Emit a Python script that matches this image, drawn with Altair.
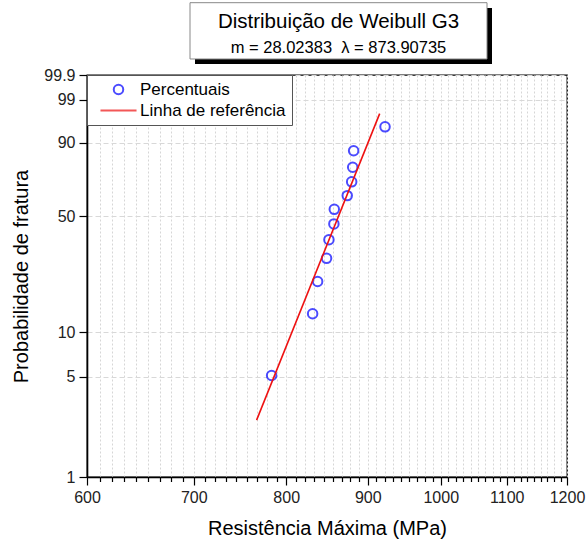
import math
import altair as alt
import pandas as pd

# ---- data ----
pct_strength = [783.3, 831.1, 837.1, 848.0, 850.9, 857.0, 857.5, 873.7, 879.3, 880.6, 881.8, 922.7]
pct_prob = [5.1, 13.3, 21.4, 29.6, 37.8, 45.9, 54.1, 62.2, 70.4, 78.6, 86.7, 94.9]
ref_strength = [766.5, 915.6]
ref_prob = [2.5, 97.5]
x_major = [600, 700, 800, 900, 1000, 1100, 1200]
y_ticks = [1, 5, 10, 50, 90, 99, 99.9]
series_names = ["Percentuais", "Linha de referência"]
title_text = "Distribuição de Weibull G3"
subtitle_text = "m = 28.02383 \u00a0λ = 873.90735"
x_title = "Resistência Máxima (MPa)"
y_title = "Probabilidade de fratura"

FONT = "Liberation Sans"


def weib(p):
    return math.log(-math.log(1 - p / 100.0))


x_minor = [h + k * 100.0 / 9.0 for h in x_major[:-1] for k in range(1, 9)]
major_list = "[" + ",".join(str(v) for v in x_major) + "]"
is_major = f"indexof({major_list}, datum.value) >= 0"

pts = pd.DataFrame({"strength": pct_strength, "p": pct_prob, "series": series_names[0]})
ref = pd.DataFrame({"strength": ref_strength, "p": ref_prob, "series": series_names[1]})
dummy = pd.DataFrame({"a": [0]})

x_enc = alt.X(
    "strength:Q",
    scale=alt.Scale(type="log", domain=[600, 1200], nice=False, zero=False),
    axis=alt.Axis(
        values=x_major + x_minor,
        labelExpr=f"{is_major} ? '' + datum.value : ''",
        tickSize={"condition": {"test": is_major, "value": 8}, "value": 4.5},
        labelOverlap=False,
        labelFlush=False,
        labelBound=False,
        title=x_title,
        grid=True,
        gridDash=[2, 2],
        gridColor="#d6d6d6",
        gridWidth=1,
    ),
)
y_enc = alt.Y(
    "w:Q",
    scale=alt.Scale(domain=[weib(1), weib(99.9)], nice=False, zero=False),
    axis=alt.Axis(
        values=[weib(v) for v in y_ticks],
        labelExpr="'' + round(1000*(1-exp(-exp(datum.value))))/10",
        tickSize=8,
        labelOverlap=False,
        labelFlush=False,
        title=y_title,
        grid=True,
        gridDash=[5, 3],
        gridColor="#d8d8d8",
        gridWidth=1,
    ),
)

legend = alt.Legend(
    title=None,
    orient="none",
    legendX=0,
    legendY=0,
    labelFont=FONT,
    labelFontSize=17,
    labelColor="black",
    symbolSize=90,
    symbolStrokeWidth=2,
    symbolOffset=17,
    labelOffset=13,
    rowPadding=2,
    padding=6,
    strokeColor="#555555",
    fillColor="white",
)
color_scale = alt.Scale(domain=series_names, range=["#0000ff", "#ee1111"])
shape_scale = alt.Scale(domain=series_names, range=["circle", "M-3.8,0H3.8"])

points = (
    alt.Chart(pts)
    .transform_calculate(w="log(-log(1 - datum.p/100))")
    .mark_point(filled=False, size=90, strokeWidth=2)
    .encode(
        x=x_enc,
        y=y_enc,
        color=alt.Color("series:N", scale=color_scale, legend=legend),
        shape=alt.Shape("series:N", scale=shape_scale, legend=legend),
    )
)

line = (
    alt.Chart(ref)
    .transform_calculate(w="log(-log(1 - datum.p/100))")
    .mark_line(strokeWidth=1.6)
    .encode(
        x=x_enc,
        y=y_enc,
        color=alt.Color("series:N", scale=color_scale, legend=legend),
    )
)

shadow = alt.Chart(dummy).mark_rect(fill="black").encode(
    x=alt.value(108), x2=alt.value(405), y=alt.value(-67), y2=alt.value(-11)
)
box = alt.Chart(dummy).mark_rect(fill="white", stroke="#888888", strokeWidth=1).encode(
    x=alt.value(103), x2=alt.value(400), y=alt.value(-72.3), y2=alt.value(-16)
)
t1 = alt.Chart(dummy).mark_text(
    text=title_text, font=FONT, fontSize=20.5, align="center", baseline="alphabetic", color="black"
).encode(x=alt.value(251.5), y=alt.value(-47))
t2 = alt.Chart(dummy).mark_text(
    text=subtitle_text, font=FONT, fontSize=16.5, align="center", baseline="alphabetic", color="black"
).encode(x=alt.value(251.5), y=alt.value(-22))

chart = (
    alt.layer(points, line, shadow, box, t1, t2)
    .properties(
        width=480,
        height=402,
        padding={"left": 87, "top": 75, "right": 20, "bottom": 67},
        autosize=alt.AutoSizeParams(type="none"),
        background="white",
    )
    .configure_view(stroke="black", strokeWidth=1.3)
    .configure_axis(
        domainColor="black",
        domainWidth=1.6,
        tickColor="black",
        tickWidth=1.2,
        labelFont=FONT,
        labelFontSize=16,
        labelColor="#222222",
        labelPadding=4,
        titleFont=FONT,
        titleFontSize=20,
        titleFontWeight="normal",
        titleColor="black",
    )
    .configure_axisX(titlePadding=13)
    .configure_axisY(titlePadding=12)
)

chart.save("out.html", embed_options={"renderer": "svg", "actions": False})
